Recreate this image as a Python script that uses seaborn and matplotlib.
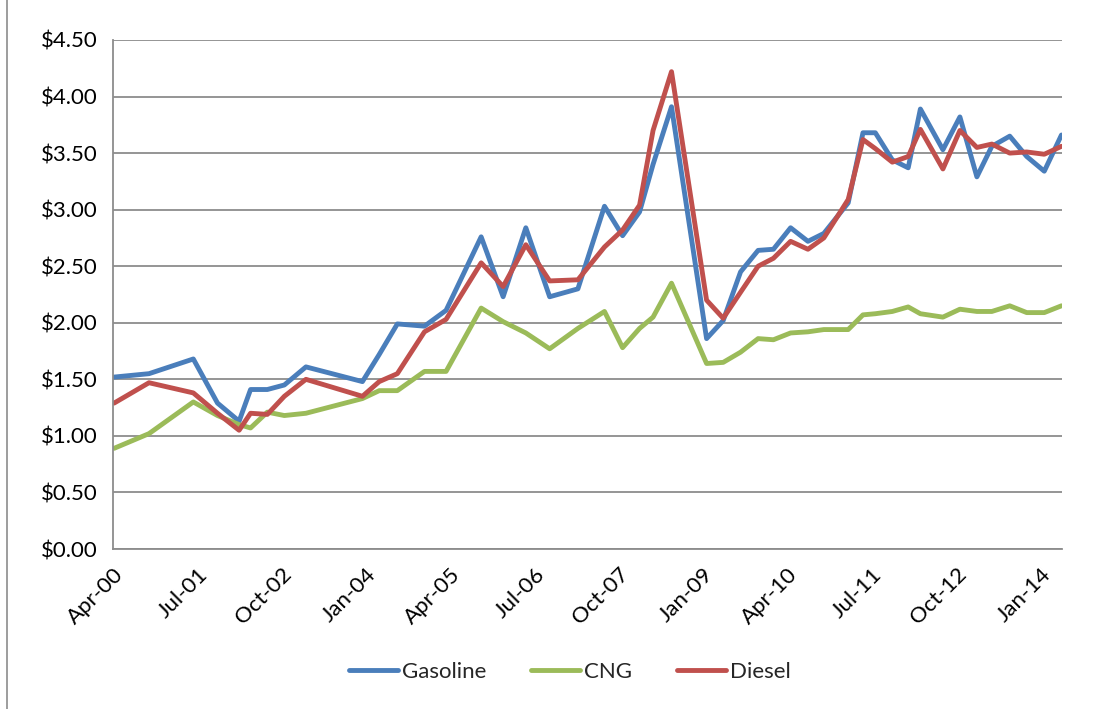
import matplotlib
matplotlib.use("Agg")
import matplotlib.pyplot as plt
import matplotlib.ticker as mticker
from matplotlib.lines import Line2D
import seaborn as sns
import pandas as pd

dates = ["2000-04-07", "2000-10-13", "2001-06-10", "2001-10-19", "2002-02-13",
         "2002-04-16", "2002-07-16", "2002-10-16", "2003-02-10", "2003-12-13",
         "2004-03-13", "2004-06-19", "2004-11-13", "2005-03-10", "2005-09-16",
         "2006-01-13", "2006-05-16", "2006-09-22", "2007-02-22", "2007-07-16",
         "2007-10-22", "2008-01-22", "2008-04-04", "2008-07-13", "2009-01-19",
         "2009-04-19", "2009-07-22", "2009-10-25", "2010-01-16", "2010-04-19",
         "2010-07-22", "2010-10-16", "2011-02-25", "2011-05-16", "2011-07-22",
         "2011-10-22", "2012-01-16", "2012-03-22", "2012-07-22", "2012-10-22",
         "2013-01-22", "2013-04-13", "2013-07-19", "2013-10-19", "2014-01-22",
         "2014-04-25"]

gasoline = [1.52, 1.55, 1.68, 1.29, 1.13, 1.41, 1.41, 1.45, 1.61, 1.48,
            1.72, 1.99, 1.97, 2.11, 2.76, 2.23, 2.84, 2.23, 2.30, 3.03,
            2.77, 2.98, 3.40, 3.91, 1.86, 2.02, 2.45, 2.64, 2.65, 2.84,
            2.72, 2.79, 3.06, 3.68, 3.68, 3.44, 3.37, 3.89, 3.53, 3.82,
            3.29, 3.56, 3.65, 3.47, 3.34, 3.66]

cng = [0.89, 1.02, 1.30, 1.18, 1.10, 1.07, 1.21, 1.18, 1.20, 1.33,
       1.40, 1.40, 1.57, 1.57, 2.13, 2.01, 1.91, 1.77, 1.95, 2.10,
       1.78, 1.95, 2.05, 2.35, 1.64, 1.65, 1.74, 1.86, 1.85, 1.91,
       1.92, 1.94, 1.94, 2.07, 2.08, 2.10, 2.14, 2.08, 2.05, 2.12,
       2.10, 2.10, 2.15, 2.09, 2.09, 2.15]

diesel = [1.29, 1.47, 1.38, 1.20, 1.05, 1.20, 1.19, 1.35, 1.50, 1.35,
          1.48, 1.55, 1.92, 2.03, 2.53, 2.32, 2.69, 2.37, 2.38, 2.67,
          2.82, 3.04, 3.70, 4.22, 2.20, 2.04, 2.27, 2.50, 2.57, 2.72,
          2.65, 2.75, 3.09, 3.62, 3.54, 3.42, 3.47, 3.71, 3.36, 3.70,
          3.55, 3.58, 3.50, 3.51, 3.49, 3.56]

series_names = ["Gasoline", "CNG", "Diesel"]
colors = ["#4A7EBB", "#9BBB59", "#C0504D"]

tick_dates = ["2000-04-01", "2001-07-01", "2002-10-01", "2004-01-01",
              "2005-04-01", "2006-07-01", "2007-10-01", "2009-01-01",
              "2010-04-01", "2011-07-01", "2012-10-01", "2014-01-01"]
tick_labels = ["Apr-00", "Jul-01", "Oct-02", "Jan-04", "Apr-05", "Jul-06",
               "Oct-07", "Jan-09", "Apr-10", "Jul-11", "Oct-12", "Jan-14"]

sns.set_style("white")
plt.rcParams["font.family"] = ["Lato", "DejaVu Sans"]

df = pd.DataFrame({
    "date": pd.to_datetime(dates * 3),
    "price": gasoline + cng + diesel,
    "fuel": [series_names[0]] * len(dates) + [series_names[1]] * len(dates) + [series_names[2]] * len(dates),
})

fig = plt.figure(figsize=(11.09, 7.09), dpi=100)
ax = fig.add_axes([113 / 1109, 1 - 549 / 709, (1062 - 113) / 1109, (549 - 40) / 709])

sns.lineplot(data=df, x="date", y="price", hue="fuel", hue_order=series_names,
             palette=colors, linewidth=3.5, ax=ax, legend=False)

ax.set_xlim(pd.Timestamp("2000-04-01"), pd.Timestamp("2014-04-28"))
ax.set_ylim(0, 4.5)
ax.set_yticks([i * 0.5 for i in range(10)])
ax.yaxis.set_major_formatter(mticker.FuncFormatter(lambda v, p: f"${v:.2f}"))
ax.set_xticks(pd.to_datetime(tick_dates))
ax.set_xticklabels(tick_labels, rotation=45, ha="right", rotation_mode="anchor")
ax.set_xlabel("")
ax.set_ylabel("")

ax.grid(axis="y", color="#8C8C8C", linewidth=1.3)
ax.grid(axis="x", visible=False)
ax.set_axisbelow(True)
for s in ["top", "right"]:
    ax.spines[s].set_visible(False)
for s in ["left", "bottom"]:
    ax.spines[s].set_color("#8C8C8C")
    ax.spines[s].set_linewidth(1.3)
ax.tick_params(axis="both", which="major", direction="out", length=6,
               color="#8C8C8C", width=1.3, labelsize=16, labelcolor="black")
ax.tick_params(axis="x", pad=5)
ax.tick_params(axis="y", pad=5)

handles = [Line2D([0], [0], color=c, linewidth=3.5) for c in colors]
fig.legend(handles, series_names, loc="center", ncol=3, frameon=False,
           bbox_to_anchor=(570 / 1109, 1 - 672 / 709), fontsize=16,
           handlelength=2.2, handletextpad=0.2, columnspacing=2.0)

fig.add_artist(Line2D([7 / 1109, 7 / 1109], [0, 1], color="#8C8C8C", linewidth=1.2,
                      transform=fig.transFigure))

fig.savefig("out.png", dpi=100, facecolor="white")
